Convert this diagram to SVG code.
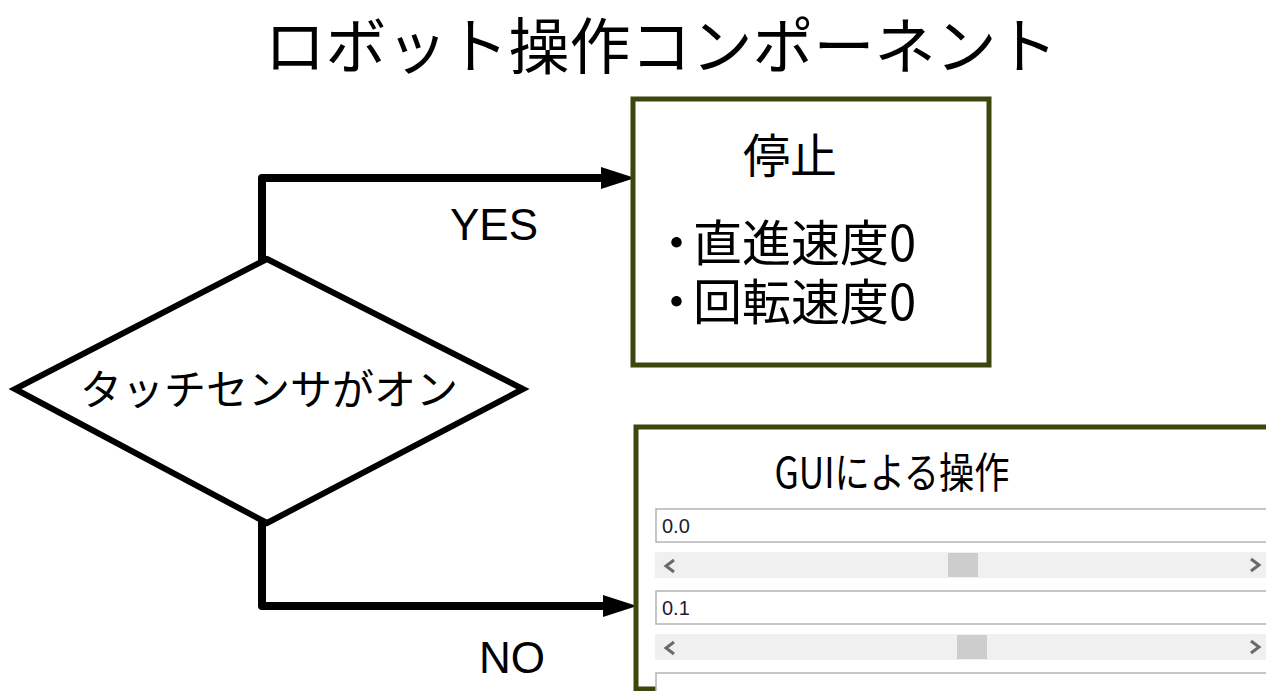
<svg xmlns="http://www.w3.org/2000/svg" width="1266" height="691" viewBox="0 0 1266 691">
<style>
.jp{font-family:"Noto Sans CJK JP","Liberation Sans",sans-serif;fill:#000}
.lat{font-family:"Liberation Sans",Arial,sans-serif;fill:#000}
.box{fill:#fff;stroke:#3b470d;stroke-width:5}
.conn{fill:none;stroke:#000;stroke-width:8;stroke-linejoin:round}
.fld{fill:#fff;stroke:#b4b4b4;stroke-width:1.5}
.bar{fill:#f0f0f0}
.thumb{fill:#cdcdcd}
.val{font-family:"Liberation Sans",Arial,sans-serif;font-size:20px;fill:#1c1c30}
.chev{fill:none;stroke:#6a6a6a;stroke-width:3;stroke-linejoin:miter}
</style>
<defs>
<marker id="arr" markerWidth="34" markerHeight="22" refX="0" refY="11" orient="auto" markerUnits="userSpaceOnUse" viewBox="0 0 34 22">
<path d="M0,0 L34,11 L0,22 Z" fill="#000"/>
</marker>
</defs>
<rect width="1266" height="691" fill="#fff"/>
<g id="title">
<text class="jp" x="661" y="69" font-size="61" text-anchor="middle">ロボット操作コンポーネント</text>
</g>
<g id="connectors">
<path class="conn" d="M262,262 V178 H601" marker-end="url(#arr)"/>
<path class="conn" d="M262,520 V606 H603" marker-end="url(#arr)"/>
<text class="lat" x="494" y="240" font-size="44" text-anchor="middle">YES</text>
<text class="lat" x="512" y="673" font-size="44" text-anchor="middle">NO</text>
</g>
<g id="decision">
<polygon points="267,259 523,389 267,523 15,389" fill="#fff" stroke="#000" stroke-width="6" stroke-linejoin="miter"/>
<text class="jp" x="269" y="405" font-size="42" text-anchor="middle">タッチセンサがオン</text>
</g>
<g id="stop">
<rect class="box" x="633" y="99" width="356" height="266"/>
<text class="jp" x="790" y="173" font-size="47" text-anchor="middle">停止</text>
<text class="jp" x="652" y="261" font-size="49" dx="0 -8">・直進速度0</text>
<text class="jp" x="652" y="320" font-size="49" dx="0 -8">・回転速度0</text>
</g>
<g id="gui">
<rect class="box" x="636" y="427" width="700" height="262"/>
<text class="jp" x="892" y="488" font-size="42" text-anchor="middle" textLength="235" lengthAdjust="spacingAndGlyphs">GUIによる操作</text>
<rect class="fld" x="656" y="509" width="640" height="33"/>
<text class="val" x="662" y="533">0.0</text>
<rect class="bar" x="655" y="552" width="640" height="26"/>
<rect class="thumb" x="948" y="553" width="30" height="24"/>
<polyline class="chev" points="674,560 666,566 674,572"/>
<polyline class="chev" points="1251,559 1259,565 1251,571"/>
<rect class="fld" x="656" y="591" width="640" height="33"/>
<text class="val" x="662" y="615">0.1</text>
<rect class="bar" x="655" y="634" width="640" height="26"/>
<rect class="thumb" x="957" y="635" width="30" height="24"/>
<polyline class="chev" points="674,642 666,648 674,654"/>
<polyline class="chev" points="1251,641 1259,647 1251,653"/>
<rect class="fld" x="656" y="673" width="640" height="33"/>
</g>
</svg>
